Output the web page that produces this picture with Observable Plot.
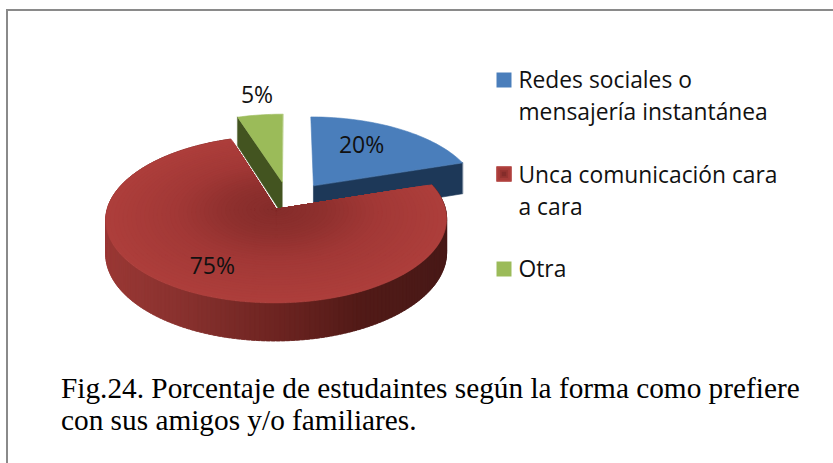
<!DOCTYPE html>
<html><head><meta charset="utf-8">
<script src="https://cdn.jsdelivr.net/npm/d3@7"></script>
<script src="https://cdn.jsdelivr.net/npm/@observablehq/plot@0.6"></script>
<style>
html,body{margin:0;padding:0;background:#fff}
#frame{position:relative;width:833px;height:463px;overflow:hidden;background:#fff}
#line-top,#line-left{position:absolute;background:#8a8a8a}
#line-top{left:6px;top:9px;width:827px;height:2px}
#line-left{left:6px;top:9px;width:2px;height:454px}
#chart{position:absolute;left:0;top:0}
#caption{position:absolute;left:61px;top:372px;width:770px;font:29.3px/32px "Liberation Serif",serif;color:#000;white-space:pre}
</style></head>
<body><div id="frame">
<div id="line-top"></div><div id="line-left"></div>
<div id="chart"></div>
<div id="caption"></div>
</div>
<script>
// DATA
const categories = ["Redes sociales o\nmensajería instantánea", "Unca comunicación cara\na cara", "Otra"];
const values = [20, 75, 5];
const valueLabels = ["20%", "75%", "5%"];
const captionText = "Fig.24. Porcentaje de estudaintes según la forma como prefiere\ncon sus amigos y/o familiares.";

// STYLE / LAYOUT
const W = 833, H = 360;
const faceColors = ["#4a7ebb", "#ab3d3a", "#9bbb59"];
const wallColors = ["#1d3858", null, "#435420"];
const redFaceStops = [[0, "#842c2a"], [0.3, "#8f302e"], [0.6, "#a23836"], [1, "#ad3e3b"]];
const redWallStops = [[0, "#9a3835"], [0.25, "#86302d"], [0.5, "#6d2421"], [0.75, "#511a17"], [1, "#481917"]];
const sliceOffsets = [[25.5, 32], [-12, -18], [-6.5, 39.5]];
const R = 167, persp = 0.12, tilt = 0.48, depth = 33, ox = 288, oy = 200;
const labelPolar = [[30.4, 0.64], [208.2, 0.727], [352, 1.33]];
const legendY = [93.5, 188.5, 266.5], legendSwatchY = [79.5, 173.5, 268.5], legendX = 503.5, legendTextX = 518;

const rad = d => d * Math.PI / 180;
const project = (X, Y, Z = 0) => { const w = 1 + persp * Y / R; return [ox + X / w, oy - tilt * Y / w + Z / w]; };

// slice angles from the values
let acc = 0;
const slices = values.map((v, i) => {
  const a0 = acc / 100 * 360; acc += v; const a1 = acc / 100 * 360;
  return {i, a0, a1, cx: sliceOffsets[i][0], cy: sliceOffsets[i][1]};
});
const pt = (s, a, r = 1, z = 0) => project(s.cx + Math.sin(rad(a)) * R * r, s.cy + Math.cos(rad(a)) * R * r, z);
const arc = (s, a0, a1, r = 1, z = 0) => { const n = Math.max(2, Math.ceil(Math.abs(a1 - a0) / 1.5)); return d3.range(n + 1).map(k => pt(s, a0 + (a1 - a0) * k / n, r, z)); };

const polys = [];
const add = (id, pts, fill) => pts.forEach(p => polys.push({id, x: p[0], y: p[1], fill}));
const blue = slices[0], red = slices[1], green = slices[2];
const scaleStops = st => d3.scaleLinear(st.map(d => d[0]), st.map(d => d[1]));

// walls of the pieces behind the red one
add("blue-cut", [pt(blue, blue.a1), pt(blue, 0, 0), pt(blue, 0, 0, depth), pt(blue, blue.a1, 1, depth)], wallColors[0]);
add("blue-face", [pt(blue, 0, 0), ...arc(blue, blue.a0, blue.a1)], faceColors[0]);
add("green-cut", [pt(green, green.a0), pt(green, 0, 0), pt(green, 0, 0, depth), pt(green, green.a0, 1, depth)], wallColors[2]);
add("green-face", [pt(green, 0, 0), ...arc(green, green.a0, green.a1)], faceColors[2]);
// red wall
const wallCol = scaleStops(redWallStops);
const xMin = 105, xMax = 447;
d3.range(red.a0, red.a1, 1.5).forEach((a, k) => {
  const b = Math.min(a + 2.5, red.a1), p = pt(red, a), q = pt(red, Math.min(a + 1.5, red.a1));
  add("red-wall-" + k, [p, pt(red, b), pt(red, b, 1, depth), pt(red, a, 1, depth)], wallCol(Math.max(0, Math.min(1, ((p[0] + q[0]) / 2 - xMin) / (xMax - xMin)))));
});
// red face: nested wedges make the radial shading
const faceCol = scaleStops(redFaceStops);
d3.range(40, 0, -1).forEach(k => {
  const r = k / 40;
  add("red-face-" + k, [pt(red, 0, 0), ...arc(red, red.a0, red.a1, r)], faceCol(r));
});

const labels = slices.map((s, i) => {
  const [a, r] = labelPolar[i]; const p = pt(s, a, r);
  return {x: p[0], y: p[1], text: valueLabels[i]};
});
const legend = categories.map((c, i) => ({c, y: legendY[i], sy: legendSwatchY[i], fill: faceColors[i]}));
const redSw = [[8.6, "#b0403d"], [6.5, "#a53b38"], [4.5, "#963431"], [2.5, "#842c2a"]].map(d => ({y: legendSwatchY[1], r: d[0], fill: d[1]}));

const font = '"Open Sans", sans-serif';
const chart = Plot.plot({
  width: W, height: H, margin: 0,
  x: {domain: [0, W], range: [0, W], axis: null},
  y: {domain: [0, H], range: [0, H], axis: null},
  color: {type: "identity"},
  r: {type: "identity"},
  marks: [
    Plot.line(polys, {x: "x", y: "y", z: "id", fill: "fill", stroke: "fill", strokeWidth: 0.6, curve: "linear-closed"}),
    Plot.text(labels, {x: "x", y: "y", text: "text", fontSize: 23, fontFamily: font, fill: "#111"}),
    Plot.dot(legend, {x: () => legendX, y: "sy", r: 8.46, symbol: "square", fill: "fill", stroke: "none"}),
    Plot.dot(redSw, {x: () => legendX, y: "y", r: "r", symbol: "square", fill: "fill", stroke: "none"}),
    Plot.text(legend, {x: () => legendTextX, y: "y", text: "c", textAnchor: "start", fontSize: 22.8, lineHeight: 1.4, fontFamily: font, fill: "#111"})
  ],
  style: {background: "transparent", overflow: "visible"}
});
document.getElementById("chart").append(chart);
document.getElementById("caption").textContent = captionText;
</script>
</body></html>
